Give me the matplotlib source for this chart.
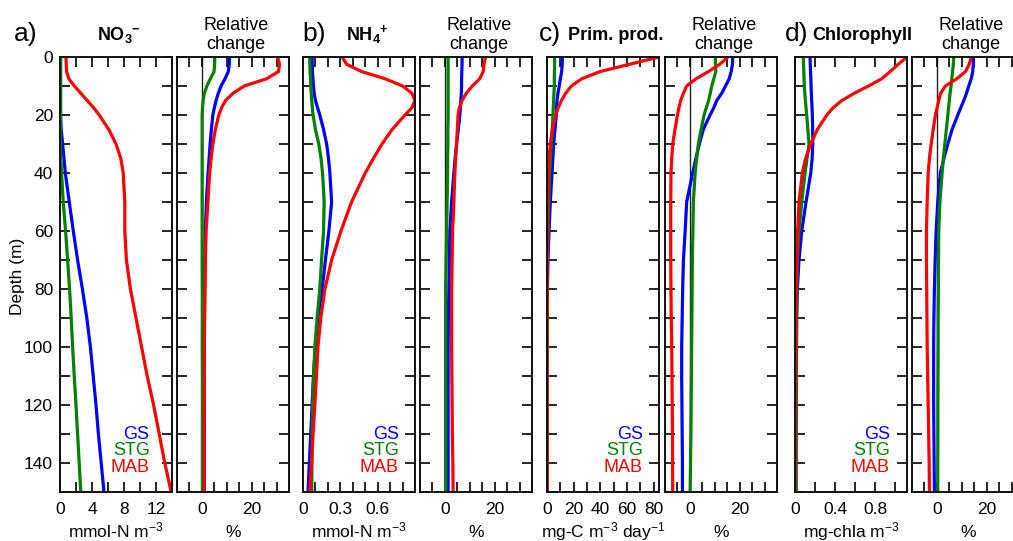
import matplotlib
matplotlib.use('Agg')
import matplotlib.pyplot as plt
from matplotlib.ticker import FixedLocator, FixedFormatter

plt.rcParams['font.family'] = ['Liberation Sans', 'DejaVu Sans']
plt.rcParams['mathtext.fontset'] = 'custom'
plt.rcParams['mathtext.rm'] = 'Liberation Sans'
plt.rcParams['mathtext.it'] = 'Liberation Sans:italic'
plt.rcParams['mathtext.bf'] = 'Liberation Sans:bold'
plt.rcParams['mathtext.default'] = 'regular'

# ---------------- data ----------------
depth = [0, 2.5, 5, 7.5, 10, 12.5, 15, 17.5, 20, 25, 30, 35, 40,
         50, 60, 70, 80, 90, 100, 110, 120, 130, 140, 150]

# a) NO3-  (mmol-N m-3)
no3_gs = [0.08, 0.08, 0.08, 0.08, 0.08, 0.08, 0.08, 0.08, 0.08, 0.15, 0.33, 0.5, 0.66,
          1.16, 1.66, 2.2, 2.8, 3.35, 3.8, 4.15, 4.5, 4.8, 5.15, 5.5]
no3_stg = [0.05, 0.05, 0.05, 0.05, 0.05, 0.05, 0.05, 0.05, 0.05, 0.05, 0.05, 0.1, 0.2,
           0.4, 0.7, 0.95, 1.2, 1.4, 1.58, 1.78, 2.0, 2.2, 2.4, 2.6]
no3_mab = [0.75, 0.78, 0.82, 1.1, 1.8, 2.6, 3.4, 4.2, 4.9, 6.1, 7.0, 7.6, 7.9,
           8.1, 8.1, 8.3, 8.8, 9.5, 10.2, 10.9, 11.7, 12.4, 13.1, 13.9]
no3_rel_gs = [11.1, 11.0, 10.6, 9.3, 7.7, 6.6, 5.7, 5.0, 4.4, 3.8, 3.3, 2.9, 2.5,
              1.8, 1.4, 1.2, 1.0, 1.0, 1.0, 1.0, 1.0, 1.0, 1.0, 1.0]
no3_rel_stg = [5.2, 5.1, 4.9, 3.4, 2.0, 1.0, 0.5, 0.25, 0.1, 0.1, 0.1, 0.1, 0.1,
               0.1, 0.1, 0.1, 0.15, 0.15, 0.15, 0.2, 0.2, 0.2, 0.2, 0.2]
no3_rel_mab = [30.4, 31.2, 30.8, 26.0, 17.0, 12.5, 9.5, 7.9, 6.8, 5.4, 4.4, 3.7, 3.1,
               2.4, 1.7, 1.4, 1.3, 1.1, 1.0, 1.0, 0.95, 0.9, 0.9, 0.9]

# b) NH4+  (mmol-N m-3)
nh4_gs = [0.073, 0.074, 0.076, 0.08, 0.084, 0.09, 0.1, 0.117, 0.135, 0.165, 0.19, 0.205, 0.216,
          0.23, 0.208, 0.18, 0.154, 0.12, 0.1, 0.084, 0.073, 0.062, 0.051, 0.04]
nh4_stg = [0.054, 0.055, 0.057, 0.06, 0.062, 0.066, 0.07, 0.075, 0.081, 0.1, 0.127, 0.145, 0.157,
           0.17, 0.165, 0.149, 0.135, 0.113, 0.095, 0.085, 0.078, 0.074, 0.072, 0.07]
nh4_mab = [0.316, 0.35, 0.47, 0.66, 0.80, 0.875, 0.9, 0.875, 0.82, 0.716, 0.635, 0.565, 0.5,
           0.39, 0.305, 0.23, 0.176, 0.143, 0.12, 0.108, 0.095, 0.081, 0.068, 0.055]
nh4_rel_gs = [6.9, 6.9, 6.8, 6.7, 6.7, 6.6, 6.4, 6.2, 6.0, 5.4, 4.7, 4.1, 3.6,
              2.7, 2.0, 1.8, 1.6, 1.4, 1.3, 1.3, 1.3, 1.3, 1.3, 1.3]
nh4_rel_stg = [1.3, 1.3, 1.3, 1.3, 1.3, 1.3, 1.3, 1.3, 1.3, 1.2, 1.2, 1.1, 1.1,
               0.9, 0.7, 0.5, 0.3, 0.3, 0.3, 0.3, 0.3, 0.3, 0.3, 0.3]
nh4_rel_mab = [16.3, 15.7, 15.4, 14.0, 11.0, 8.6, 6.9, 5.8, 5.3, 5.0, 4.7, 4.3, 4.0,
               3.6, 3.1, 2.9, 2.7, 2.7, 2.7, 2.8, 2.9, 3.0, 3.2, 3.3]

# c) Primary production  (mg-C m-3 day-1)
pp_gs = [11.5, 11.4, 11.0, 10.0, 9.2, 8.2, 7.5, 7.2, 7.0, 6.0, 5.0, 4.4, 3.75,
         2.5, 1.5, 0.75, 0.3, 0.2, 0.15, 0.1, 0.1, 0.1, 0.1, 0.1]
pp_stg = [5.75, 5.7, 5.6, 5.5, 5.5, 5.2, 5.0, 4.7, 4.5, 3.9, 3.25, 2.6, 2.0,
          1.25, 0.75, 0.3, 0.2, 0.15, 0.1, 0.1, 0.1, 0.1, 0.1, 0.1]
pp_mab = [84.0, 62.0, 40.0, 26.0, 18.3, 14.0, 10.8, 8.4, 6.5, 4.0, 2.5, 1.6, 1.0,
          0.5, 0.25, 0.2, 0.15, 0.1, 0.05, 0.0, 0.0, 0.0, 0.0, 0.0]
pp_rel_gs = [17.2, 17.1, 16.6, 15.8, 14.3, 12.8, 10.8, 9.6, 8.1, 5.4, 3.8, 2.4, 1.1,
             -1.3, -1.9, -2.6, -2.9, -3.1, -3.3, -3.3, -3.2, -3.1, -3.0, -3.0]
pp_rel_stg = [10.2, 10.3, 10.4, 9.6, 8.8, 8.2, 7.5, 6.6, 5.7, 4.5, 3.4, 2.7, 2.1,
              1.4, 1.2, 1.0, 0.9, 0.8, 0.7, 0.6, 0.5, 0.4, 0.25, 0.1]
pp_rel_mab = [15.3, 12.0, 7.5, 2.5, -1.3, -2.6, -3.7, -4.4, -5.0, -6.0, -6.9, -7.3, -7.6,
              -7.7, -7.7, -7.7, -7.6, -7.5, -7.3, -7.2, -7.1, -7.0, -6.95, -6.9]

# d) Chlorophyll  (mg-chla m-3)
chl_gs = [0.15, 0.152, 0.155, 0.158, 0.16, 0.163, 0.166, 0.17, 0.173, 0.176, 0.177, 0.171, 0.157,
          0.11, 0.067, 0.04, 0.023, 0.017, 0.015, 0.013, 0.012, 0.011, 0.01, 0.01]
chl_stg = [0.083, 0.085, 0.088, 0.09, 0.093, 0.098, 0.104, 0.11, 0.117, 0.128, 0.14, 0.12, 0.1,
           0.067, 0.04, 0.023, 0.018, 0.015, 0.013, 0.012, 0.011, 0.01, 0.01, 0.01]
chl_mab = [1.117, 1.03, 0.95, 0.865, 0.733, 0.59, 0.467, 0.38, 0.317, 0.223, 0.157, 0.105, 0.073,
           0.04, 0.027, 0.017, 0.012, 0.01, 0.008, 0.006, 0.004, 0.003, 0.002, 0.0]
chl_rel_gs = [14.6, 14.6, 14.4, 13.8, 12.8, 11.9, 10.8, 9.6, 8.4, 6.1, 4.4, 2.8, 1.4,
              0.35, -0.3, -0.7, -1.0, -1.2, -1.3, -1.3, -1.3, -1.2, -1.1, -1.0]
chl_rel_stg = [6.8, 6.6, 6.3, 6.0, 5.7, 5.3, 5.0, 4.7, 4.4, 3.8, 3.2, 2.6, 2.1,
               1.2, 0.75, 0.65, 0.6, 0.5, 0.5, 0.45, 0.4, 0.4, 0.35, 0.35]
chl_rel_mab = [13.8, 13.0, 11.5, 8.0, 3.4, 1.5, 0.75, 0.1, -0.6, -1.5, -2.3, -3.0, -3.5,
               -3.9, -4.2, -4.2, -4.1, -4.0, -3.9, -3.7, -3.5, -3.3, -3.1, -3.0]

depth_ticks = list(range(0, 151, 10))
depth_labels = ['0', '', '20', '', '40', '', '60', '', '80', '', '100', '', '120', '', '140', '']

series_names = ['GS', 'STG', 'MAB']
series_colors = ['#0000ff', '#008000', '#ff0000']

panel_letters = ['a)', 'b)', 'c)', 'd)']
panel_titles = [r'$\mathbf{NO_3{}^{-}}$', r'$\mathbf{NH_4{}^{+}}$', 'Prim. prod.', 'Chlorophyll']
units = ['mmol-N m$^{-3}$', 'mmol-N m$^{-3}$', 'mg-C m$^{-3}$ day$^{-1}$', 'mg-chla m$^{-3}$']

abs_data = [(no3_gs, no3_stg, no3_mab), (nh4_gs, nh4_stg, nh4_mab),
            (pp_gs, pp_stg, pp_mab), (chl_gs, chl_stg, chl_mab)]
rel_data = [(no3_rel_gs, no3_rel_stg, no3_rel_mab), (nh4_rel_gs, nh4_rel_stg, nh4_rel_mab),
            (pp_rel_gs, pp_rel_stg, pp_rel_mab), (chl_rel_gs, chl_rel_stg, chl_rel_mab)]

abs_xlim = [(0, 14), (0, 0.9), (0, 84), (0, 1.117)]
abs_ticks = [[0, 2, 4, 6, 8, 10, 12, 14],
             [0, 0.1, 0.2, 0.3, 0.4, 0.5, 0.6, 0.7, 0.8, 0.9],
             [0, 10, 20, 30, 40, 50, 60, 70, 80],
             [0, 0.2, 0.4, 0.6, 0.8, 1.0]]
abs_ticklabels = [['0', '', '4', '', '8', '', '12', ''],
                  ['0', '', '', '0.3', '', '', '0.6', '', '', ''],
                  ['0', '', '20', '', '40', '', '60', '', '80'],
                  ['0', '', '0.4', '', '0.8', '']]
rel_xlim = (-10, 35)
rel_ticks = [-10, -5, 0, 5, 10, 15, 20, 25, 30, 35]
rel_ticklabels = ['', '', '0', '', '', '', '20', '', '', '']

# ---------------- layout ----------------
W, H = 1013, 541
fig = plt.figure(figsize=(W / 100, H / 100), dpi=100)
top_px, bot_px = 57, 492
pw = 112
left_x = [60, 303, 547, 795]
right_x = [177, 420, 665, 912]
legend_xfrac = [0.80, 0.856, 0.857, 0.848]
letter_x = [26, 314, 550, 797]
title_x = [119, 367, 568, 812]
title_ha = ['center', 'center', 'left', 'left']

FS = 12.5
LW = 2.3
SP = 1.4


def rect(x0):
    return [x0 / W, (H - bot_px) / H, pw / W, (bot_px - top_px) / H]


def style(ax, first=False):
    ax.set_ylim(150, 0)
    ax.yaxis.set_major_locator(FixedLocator(depth_ticks))
    ax.yaxis.set_major_formatter(FixedFormatter(depth_labels))
    ax.tick_params(axis='y', which='both', direction='in', left=True, right=True,
                   length=7.5, width=1.2, labelleft=first, labelright=False,
                   labelsize=FS, pad=5)
    ax.tick_params(axis='x', which='both', direction='in', top=True, bottom=True,
                   length=7.5, width=1.2, labelsize=FS, pad=7)
    for s in ax.spines.values():
        s.set_linewidth(SP)
        s.set_color('#111111')


for i in range(4):
    axa = fig.add_axes(rect(left_x[i]))
    for vals, c in zip(abs_data[i], series_colors):
        axa.plot(vals, depth, color=c, lw=LW, solid_capstyle='butt')
    axa.set_xlim(*abs_xlim[i])
    axa.xaxis.set_major_locator(FixedLocator(abs_ticks[i]))
    axa.xaxis.set_major_formatter(FixedFormatter(abs_ticklabels[i]))
    style(axa, first=(i == 0))
    tr = axa.get_yaxis_transform()
    for name, c, yv in zip(series_names, series_colors, [130, 135.8, 141.4]):
        axa.text(legend_xfrac[i], yv, name, color=c, fontsize=13, ha='right',
                 va='center', transform=tr)

    axr = fig.add_axes(rect(right_x[i]))
    axr.axvline(0, color='#222222', lw=1.0, zorder=1)
    for vals, c in zip(rel_data[i], series_colors):
        axr.plot(vals, depth, color=c, lw=LW, solid_capstyle='butt', zorder=2)
    axr.set_xlim(*rel_xlim)
    axr.xaxis.set_major_locator(FixedLocator(rel_ticks))
    axr.xaxis.set_major_formatter(FixedFormatter(rel_ticklabels))
    style(axr)

    # texts
    fig.text(letter_x[i] / W, 1 - 41 / H, panel_letters[i], fontsize=19,
             ha='center', va='baseline')
    fig.text(title_x[i] / W, 1 - 40 / H, panel_titles[i], fontsize=13,
             fontweight='bold', ha=title_ha[i], va='baseline')
    fig.text((right_x[i] + pw / 2 + 3) / W, 1 - 35 / H, 'Relative\nchange',
             fontsize=13, ha='center', va='center', linespacing=1.1)
    fig.text((left_x[i] + pw / 2) / W, 1 - 537 / H, units[i], fontsize=FS,
             ha='center', va='baseline')
    fig.text((right_x[i] + pw / 2) / W, 1 - 537 / H, '%', fontsize=FS,
             ha='center', va='baseline')

fig.text(18 / W, 1 - 276 / H, 'Depth (m)', fontsize=FS, rotation=90,
         ha='center', va='center')

fig.savefig('out.png', dpi=100)
